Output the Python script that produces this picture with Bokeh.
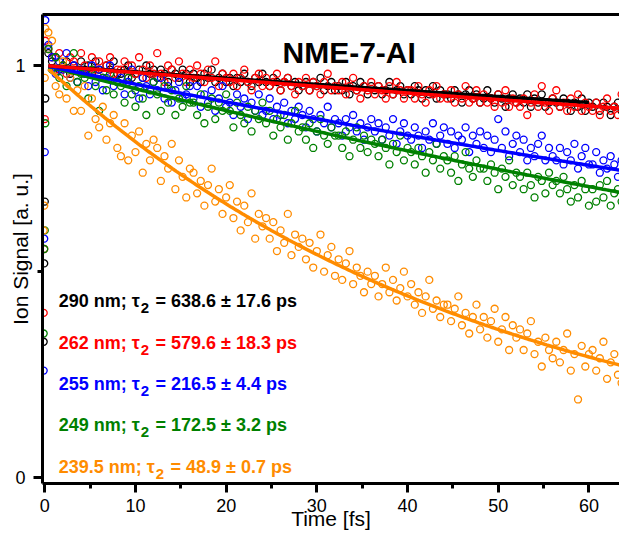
import numpy as np
from bokeh.plotting import figure
from bokeh.models import Range1d, FixedTicker, LinearAxis, ColumnDataSource
from bokeh.core.properties import value
from bokeh.embed import file_html
from bokeh.resources import INLINE

# ---------------- data ----------------
wavelength_nm = ["290", "262", "255", "249", "239.5"]
tau2_ps = [638.6, 579.6, 216.5, 172.5, 48.9]
tau2_err_ps = [17.6, 18.3, 4.4, 3.2, 0.7]
series_colors = ["#000000", "#FF0000", "#0000FF", "#008000", "#FF8C00"]
fit_start_ps = [0.4, 0.4, 0.4, 0.4, 0.4]
fit_end_ps = [60.0, 64.3, 64.3, 64.3, 64.3]

time_early_ps = [-0.12, -0.06, 0.0, 0.06]
time_step_ps = 0.4
n_main = 160
time_ps = time_early_ps + [round(time_step_ps * k, 1) for k in range(1, n_main + 1)]

signal_290 = [0.33, 0.52, 0.67, 0.92,
    1.03, 1.01, 1.02, 0.99, 1.00, 1.01, 0.98, 1.00, 0.99, 1.01,
    0.99, 1.00, 0.98, 1.01, 0.99, 0.97, 1.00, 0.99, 1.01, 0.98,
    0.98, 0.99, 1.00, 0.97, 0.98, 0.99, 0.97, 1.00, 0.98, 0.99,
    0.97, 0.99, 0.98, 0.96, 0.99, 0.98, 0.97, 0.99, 0.98, 0.96,
    0.98, 0.97, 0.96, 0.98, 0.97, 0.99, 0.96, 0.97, 0.98, 0.96,
    0.97, 0.95, 0.97, 0.96, 0.98, 0.96, 0.95, 0.97, 0.96, 0.98,
    0.96, 0.95, 0.97, 0.96, 0.94, 0.96, 0.97, 0.95, 0.96, 0.94,
    0.95, 0.96, 0.94, 0.96, 0.95, 0.97, 0.94, 0.95, 0.96, 0.94,
    0.95, 0.94, 0.96, 0.93, 0.95, 0.94, 0.96, 0.95, 0.93, 0.95,
    0.94, 0.95, 0.93, 0.94, 0.96, 0.93, 0.94, 0.95, 0.93, 0.94,
    0.93, 0.95, 0.94, 0.92, 0.94, 0.93, 0.95, 0.92, 0.94, 0.93,
    0.93, 0.92, 0.94, 0.93, 0.91, 0.93, 0.94, 0.92, 0.93, 0.91,
    0.92, 0.94, 0.92, 0.91, 0.93, 0.92, 0.90, 0.92, 0.93, 0.91,
    0.92, 0.91, 0.93, 0.90, 0.92, 0.91, 0.93, 0.90, 0.91, 0.92,
    0.91, 0.90, 0.92, 0.91, 0.89, 0.91, 0.90, 0.92, 0.89, 0.91,
    0.90, 0.91, 0.89, 0.91, 0.90, 0.88, 0.90, 0.91, 0.89, 0.90]

signal_262 = [0.40, 0.555, 0.87, 1.06,
    1.04, 1.02, 0.99, 1.03, 1.00, 0.98, 1.02, 1.01, 0.99, 1.03,
    1.00, 0.98, 1.02, 0.99, 1.01, 0.97, 1.00, 1.02, 0.98, 0.99,
    0.99, 1.01, 0.97, 1.00, 0.98, 1.02, 0.99, 0.97, 1.00, 0.98,
    1.03, 0.98, 0.96, 1.00, 0.99, 0.97, 1.01, 0.98, 0.96, 0.99,
    0.97, 1.00, 0.98, 0.96, 0.99, 0.97, 1.01, 0.95, 0.98, 0.97,
    0.96, 0.98, 0.95, 0.97, 0.99, 0.96, 0.94, 0.97, 0.98, 0.95,
    0.97, 0.95, 0.96, 0.98, 0.94, 0.96, 0.97, 0.95, 0.93, 0.96,
    0.95, 0.97, 0.94, 0.96, 0.95, 0.93, 0.96, 0.98, 0.94, 0.95,
    0.94, 0.96, 0.93, 0.95, 0.97, 0.94, 0.92, 0.95, 0.94, 0.96,
    0.93, 0.95, 0.94, 0.92, 0.95, 0.93, 0.96, 0.94, 0.92, 0.94,
    0.94, 0.92, 0.95, 0.93, 0.91, 0.94, 0.93, 0.95, 0.92, 0.93,
    0.92, 0.94, 0.91, 0.93, 0.92, 0.95, 0.91, 0.92, 0.94, 0.91,
    0.93, 0.91, 0.92, 0.90, 0.93, 0.91, 0.94, 0.90, 0.92, 0.91,
    0.90, 0.92, 0.88, 0.91, 0.93, 0.90, 0.95, 0.91, 0.89, 0.92,
    0.94, 0.90, 0.91, 0.89, 0.92, 0.90, 0.93, 0.89, 0.91, 0.90,
    0.89, 0.91, 0.88, 0.90, 0.92, 0.89, 0.90, 0.88, 0.93, 0.89]

signal_255 = [0.26, 0.58, 0.79, 1.11,
    1.05, 1.02, 0.98, 1.01, 0.99, 1.03, 0.97, 1.00, 0.96, 0.99,
    0.98, 0.95, 1.00, 0.96, 0.99, 0.94, 0.97, 1.00, 0.95, 0.96,
    0.97, 0.93, 0.96, 0.99, 0.94, 0.92, 0.97, 0.95, 0.93, 0.96,
    0.94, 0.97, 0.92, 0.95, 0.91, 0.94, 0.96, 0.92, 0.93, 0.95,
    0.92, 0.95, 0.90, 0.93, 0.91, 0.94, 0.89, 0.92, 0.95, 0.90,
    0.91, 0.88, 0.93, 0.90, 0.92, 0.87, 0.91, 0.89, 0.93, 0.88,
    0.89, 0.92, 0.87, 0.90, 0.88, 0.91, 0.86, 0.89, 0.87, 0.90,
    0.88, 0.85, 0.89, 0.87, 0.84, 0.88, 0.86, 0.90, 0.85, 0.87,
    0.86, 0.83, 0.87, 0.85, 0.88, 0.84, 0.86, 0.82, 0.85, 0.87,
    0.84, 0.86, 0.82, 0.85, 0.83, 0.87, 0.81, 0.84, 0.86, 0.83,
    0.82, 0.85, 0.83, 0.80, 0.84, 0.82, 0.86, 0.81, 0.83, 0.85,
    0.81, 0.84, 0.80, 0.83, 0.82, 0.85, 0.79, 0.83, 0.81, 0.84,
    0.80, 0.83, 0.79, 0.82, 0.87, 0.80, 0.84, 0.78, 0.81, 0.83,
    0.79, 0.82, 0.77, 0.80, 0.78, 0.81, 0.83, 0.77, 0.80, 0.78,
    0.77, 0.80, 0.76, 0.79, 0.77, 0.81, 0.75, 0.78, 0.80, 0.76,
    0.76, 0.79, 0.74, 0.77, 0.75, 0.78, 0.76, 0.73, 0.77, 0.75]

signal_249 = [0.35, 0.555, 0.60, 0.86,
    1.04, 0.99, 1.02, 0.97, 1.00, 0.95, 0.99, 1.03, 0.96, 0.98,
    0.97, 0.92, 0.99, 0.95, 0.89, 0.97, 0.94, 0.98, 0.93, 0.96,
    0.95, 0.91, 0.97, 0.93, 0.90, 0.95, 0.92, 0.88, 0.94, 0.96,
    0.93, 0.89, 0.95, 0.91, 0.94, 0.88, 0.92, 0.90, 0.95, 0.91,
    0.91, 0.88, 0.93, 0.86, 0.90, 0.92, 0.87, 0.91, 0.89, 0.93,
    0.89, 0.85, 0.91, 0.88, 0.86, 0.90, 0.84, 0.89, 0.87, 0.91,
    0.86, 0.89, 0.83, 0.87, 0.85, 0.88, 0.82, 0.86, 0.89, 0.84,
    0.85, 0.82, 0.86, 0.80, 0.84, 0.87, 0.83, 0.81, 0.85, 0.83,
    0.83, 0.80, 0.84, 0.78, 0.82, 0.85, 0.80, 0.83, 0.79, 0.82,
    0.81, 0.78, 0.82, 0.80, 0.76, 0.81, 0.79, 0.83, 0.77, 0.80,
    0.79, 0.76, 0.80, 0.78, 0.74, 0.79, 0.77, 0.81, 0.75, 0.78,
    0.77, 0.74, 0.78, 0.72, 0.76, 0.79, 0.75, 0.73, 0.77, 0.75,
    0.75, 0.72, 0.76, 0.74, 0.70, 0.75, 0.73, 0.77, 0.71, 0.74,
    0.73, 0.70, 0.74, 0.71, 0.68, 0.73, 0.72, 0.69, 0.74, 0.71,
    0.72, 0.69, 0.73, 0.70, 0.67, 0.71, 0.68, 0.72, 0.70, 0.66,
    0.70, 0.67, 0.71, 0.68, 0.72, 0.66, 0.69, 0.70, 0.67, 0.69]

signal_239_5 = [0.60, 0.66, 0.97, 1.09,
    1.08, 1.06, 0.95, 0.93, 1.01, 0.92, 0.97, 0.89, 0.94, 0.89,
    0.95, 0.83, 0.92, 0.87, 0.85, 0.90, 0.82, 0.86, 0.88, 0.80,
    0.78, 0.86, 0.77, 0.83, 0.79, 0.84, 0.74, 0.81, 0.77, 0.82,
    0.80, 0.72, 0.78, 0.75, 0.81, 0.70, 0.77, 0.73, 0.68, 0.75,
    0.74, 0.69, 0.72, 0.66, 0.71, 0.75, 0.67, 0.70, 0.64, 0.68,
    0.71, 0.63, 0.67, 0.60, 0.66, 0.62, 0.69, 0.58, 0.64, 0.61,
    0.63, 0.58, 0.62, 0.55, 0.60, 0.57, 0.64, 0.54, 0.59, 0.56,
    0.58, 0.53, 0.57, 0.51, 0.55, 0.59, 0.50, 0.54, 0.56, 0.49,
    0.53, 0.48, 0.52, 0.55, 0.47, 0.51, 0.49, 0.45, 0.50, 0.47,
    0.49, 0.44, 0.47, 0.51, 0.45, 0.48, 0.43, 0.46, 0.50, 0.44,
    0.47, 0.42, 0.45, 0.40, 0.44, 0.48, 0.41, 0.43, 0.39, 0.42,
    0.42, 0.38, 0.41, 0.44, 0.37, 0.40, 0.35, 0.39, 0.42, 0.36,
    0.39, 0.34, 0.38, 0.41, 0.33, 0.36, 0.39, 0.31, 0.37, 0.34,
    0.36, 0.31, 0.35, 0.38, 0.30, 0.33, 0.27, 0.34, 0.31, 0.29,
    0.33, 0.28, 0.31, 0.35, 0.26, 0.30, 0.19, 0.32, 0.27, 0.30,
    0.31, 0.26, 0.29, 0.33, 0.24, 0.28, 0.30, 0.25, 0.23, 0.27]

signals = [signal_290, signal_262, signal_255, signal_249, signal_239_5]

x_ticks = [0, 10, 20, 30, 40, 50, 60]
x_minor_ticks = [5, 15, 25, 35, 45, 55, 65]
y_ticks = [0, 1]
y_minor_ticks = [0.5]
title_text = "NME-7-AI"
x_title = "Time [fs]"
y_title = "Ion Signal [a. u.]"

# ---------------- layout / style ----------------
FONT = "Liberation Sans"
label_x = 1.54
label_y = [0.428, 0.327, 0.227, 0.127, 0.027]
label_size = 18
sub_size = 15

# Arial / Liberation Sans Bold advance widths (em)
_w = {' ': 0.278, '.': 0.278, ';': 0.333, '=': 0.584, '\u00b1': 0.549,
      'n': 0.611, 'm': 0.889, 'p': 0.611, 's': 0.556, '\u03c4': 0.55}
def text_width(s, size):
    return sum(_w.get(c, 0.556) for c in s) * size

p = figure(width=619, height=534, output_backend="svg", toolbar_location=None,
           x_range=Range1d(-0.25, 63.37), y_range=Range1d(-0.0138, 1.1237),
           min_border_left=42, min_border_right=0, min_border_top=14, min_border_bottom=51)
p.outline_line_color = None
p.xgrid.visible = False
p.ygrid.visible = False
p.background_fill_color = "white"
p.border_fill_color = "white"

for sig, col in zip(signals, series_colors):
    p.scatter(time_ps, sig, marker="circle", size=7, fill_color=None,
              line_color=col, line_width=1.3)

for i in [4, 3, 2, 0, 1]:
    t = np.linspace(fit_start_ps[i], fit_end_ps[i], 300)
    p.line(t, np.exp(-t / tau2_ps[i]), line_color=series_colors[i], line_width=3.5)

prefix = [f"{wl} nm; \u03c4" for wl in wavelength_nm]
sub = ["2"] * 5
suffix = [f"= {t:.1f} \u00b1 {e:.1f} ps" for t, e in zip(tau2_ps, tau2_err_ps)]
off_sub = [text_width(s, label_size) - 1 for s in prefix]
off_suf = [o + 0.556 * sub_size + 0.278 * label_size + 1.5 for o in off_sub]

src = ColumnDataSource(dict(x=[label_x] * 5, y=label_y, pre=prefix, sub=sub, suf=suffix,
                            c=series_colors, o1=off_sub, o2=off_suf))
common = dict(text_font=value(FONT), text_font_style="bold", text_baseline="alphabetic",
              text_align="left", text_color="c")
p.text(x="x", y="y", text="pre", text_font_size=f"{label_size}px", source=src, **common)
p.text(x="x", y="y", text="sub", x_offset="o1", y_offset=7, text_font_size=f"{sub_size}px",
       source=src, **common)
p.text(x="x", y="y", text="suf", x_offset="o2", text_font_size=f"{label_size}px",
       source=src, **common)

p.text(x=[33.56], y=[1.032], text=[title_text], text_font=value(FONT), text_font_style="bold",
       text_font_size="30px", text_align="center", text_baseline="alphabetic", text_color="black")

def style_axis(ax):
    ax.axis_line_width = 3
    ax.axis_line_color = "black"
    ax.major_tick_line_width = 3
    ax.minor_tick_line_width = 3
    ax.major_tick_in = 0
    ax.minor_tick_in = 0
    ax.major_tick_out = 9
    ax.minor_tick_out = 5
    ax.major_label_text_font = FONT
    ax.major_label_text_font_size = "18px"
    ax.major_label_text_color = "black"
    ax.axis_label_text_font = FONT
    ax.axis_label_text_font_size = "21px"
    ax.axis_label_text_font_style = "normal"
    ax.axis_label_text_color = "black"

xa = p.xaxis[0]
style_axis(xa)
xa.ticker = FixedTicker(ticks=x_ticks, minor_ticks=x_minor_ticks)
xa.axis_label = x_title
xa.major_label_standoff = 6
xa.axis_label_standoff = -8

ya = p.yaxis[0]
style_axis(ya)
ya.ticker = FixedTicker(ticks=y_ticks, minor_ticks=y_minor_ticks)
ya.axis_label = y_title
ya.major_label_standoff = 8
ya.axis_label_standoff = -20

top = LinearAxis(ticker=FixedTicker(ticks=[]), axis_line_width=3, axis_line_color="black",
                 major_tick_out=0, major_tick_in=0, minor_tick_out=0, minor_tick_in=0,
                 major_label_text_font_size="0px")
p.add_layout(top, "above")

open("out.html", "w").write(file_html(p, INLINE))
